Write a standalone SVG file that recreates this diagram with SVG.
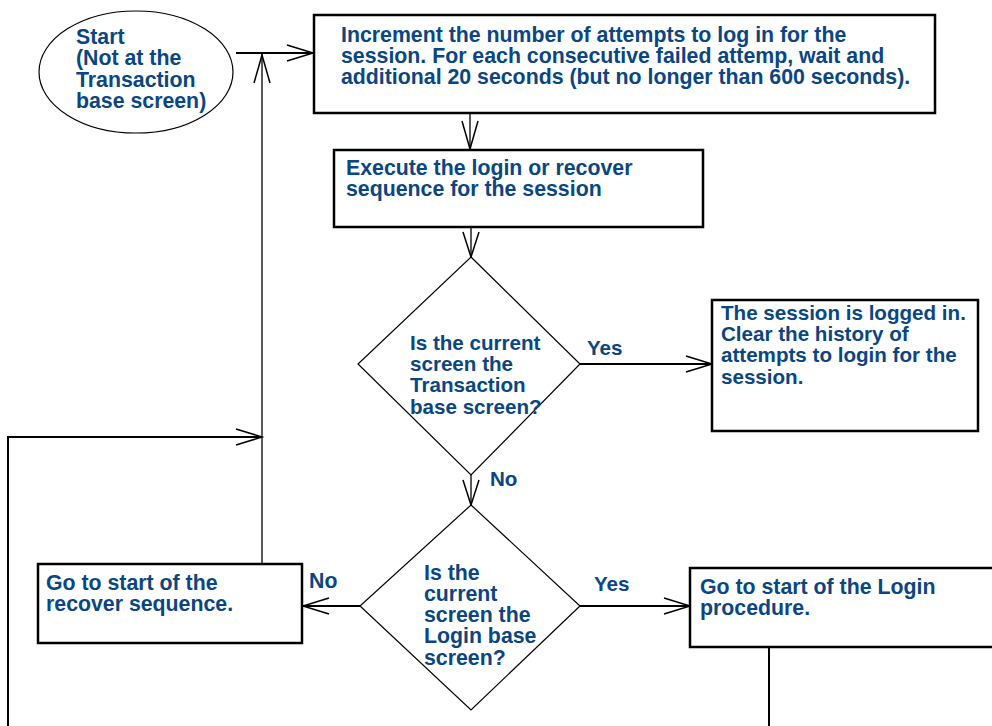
<svg xmlns="http://www.w3.org/2000/svg" width="992" height="726" viewBox="0 0 992 726">
<style>
.box{fill:#fff;stroke:#000;stroke-width:2.5}
.dia{fill:#fff;stroke:#000;stroke-width:1.2}
.ell{fill:#fff;stroke:#000;stroke-width:1.2}
.t{font-family:"Liberation Sans",Arial,sans-serif;font-weight:bold;font-size:21.3px;fill:#0a4682}
.n{font-size:20.6px}
.c{fill:none;stroke:#000;stroke-width:2}
.c1{fill:none;stroke:#000;stroke-width:1.3}
.ah{fill:none;stroke:#000;stroke-width:1.5}
</style>
<rect width="992" height="726" fill="#fff"/>
<g id="connectors">
<path class="c" d="M236 53 H313"/>
<path class="ah" d="M287 45 L313 53 L287 61"/>
<path class="c1" d="M262 563 V54"/>
<path class="ah" d="M254 83 L262 55 L270 83"/>
<path class="c" d="M8 726 V437 H262"/>
<path class="ah" d="M236 429 L262 437 L236 445"/>
<path class="c1" d="M470 113 V149"/>
<path class="ah" d="M462 121 L470 149 L478 121"/>
<path class="c1" d="M471 227 V257"/>
<path class="ah" d="M463 232 L471 257 L479 232"/>
<path class="c" d="M580 364 H712"/>
<path class="ah" d="M686 356 L712 364 L686 372"/>
<path class="c1" d="M471 475 V505"/>
<path class="ah" d="M463 480 L471 505 L479 480"/>
<path class="c" d="M360 606 H303"/>
<path class="ah" d="M329 598 L303 606 L329 614"/>
<path class="c" d="M580 606 H690"/>
<path class="ah" d="M664 598 L690 606 L664 614"/>
<path class="c" d="M769 647 V726"/>
</g>
<g id="start">
<ellipse class="ell" cx="136" cy="72" rx="97" ry="61"/>
<text class="t" x="76" y="44">Start</text>
<text class="t" x="76" y="65">(Not at the</text>
<text class="t" x="76" y="87">Transaction</text>
<text class="t" x="76" y="108">base screen)</text>
</g>
<g id="increment">
<rect class="box" x="314" y="15" width="621" height="98"/>
<text class="t" x="341" y="42">Increment the number of attempts to log in for the</text>
<text class="t" x="341" y="63">session. For each consecutive failed attemp, wait and</text>
<text class="t" x="341" y="84">additional 20 seconds (but no longer than 600 seconds).</text>
</g>
<g id="execute">
<rect class="box" x="334" y="150" width="369" height="77"/>
<text class="t" x="346" y="175">Execute the login or recover</text>
<text class="t" x="346" y="196">sequence for the session</text>
</g>
<g id="decision1">
<polygon class="dia" points="471,257 580,364 471,475 358,364"/>
<text class="t n" x="410" y="350">Is the current</text>
<text class="t n" x="410" y="371">screen the</text>
<text class="t n" x="410" y="392">Transaction</text>
<text class="t n" x="410" y="414">base screen?</text>
</g>
<g id="loggedin">
<rect class="box" x="712" y="300" width="266" height="131"/>
<text class="t n" x="721" y="320">The session is logged in.</text>
<text class="t n" x="721" y="341">Clear the history of</text>
<text class="t n" x="721" y="362">attempts to login for the</text>
<text class="t n" x="721" y="384">session.</text>
</g>
<g id="decision2">
<polygon class="dia" points="471,505 580,606 471,710 360,606"/>
<text class="t" x="424" y="580">Is the</text>
<text class="t" x="424" y="601">current</text>
<text class="t" x="424" y="622">screen the</text>
<text class="t" x="424" y="643">Login base</text>
<text class="t" x="424" y="665">screen?</text>
</g>
<g id="recover">
<rect class="box" x="38" y="564" width="264" height="79"/>
<text class="t" x="46" y="590">Go to start of the</text>
<text class="t" x="46" y="611">recover sequence.</text>
</g>
<g id="login">
<rect class="box" x="690" y="568" width="320" height="79"/>
<text class="t" x="700" y="594">Go to start of the Login</text>
<text class="t" x="700" y="615">procedure.</text>
</g>
<g id="labels">
<text class="t n" x="587" y="355">Yes</text>
<text class="t n" x="490" y="486">No</text>
<text class="t" x="309" y="588">No</text>
<text class="t n" x="594" y="591">Yes</text>
</g>
</svg>
